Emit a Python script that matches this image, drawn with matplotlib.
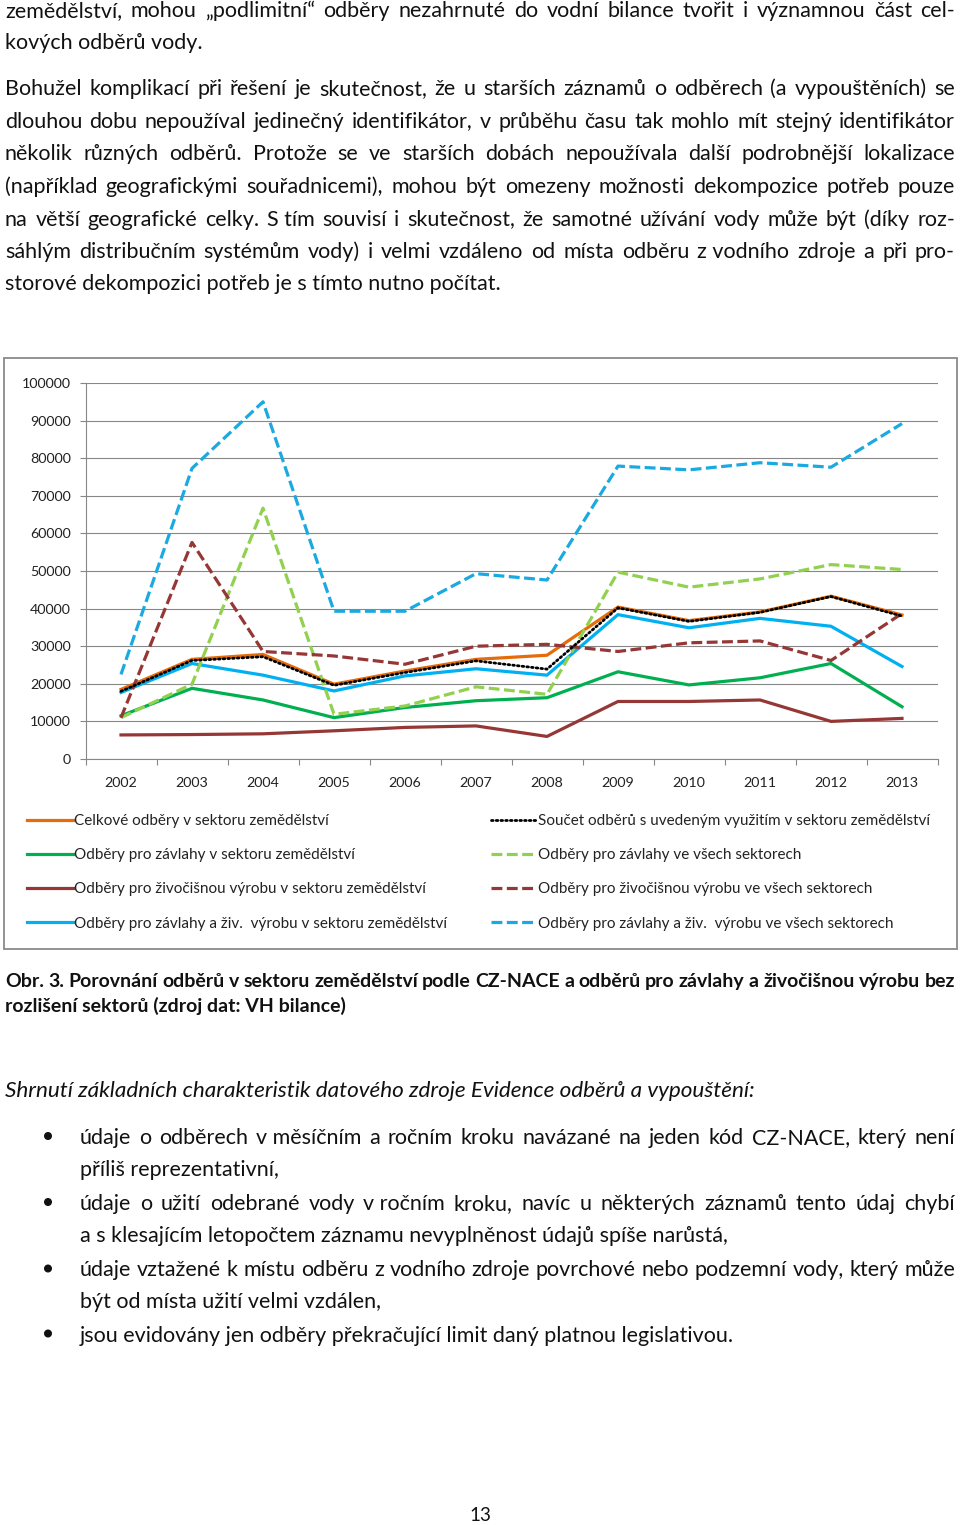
import matplotlib
matplotlib.use('Agg')
import matplotlib.pyplot as plt
from matplotlib.patches import Rectangle, Circle

# ---- chart data (m3 / year) ----
years = ['2002', '2003', '2004', '2005', '2006', '2007',
         '2008', '2009', '2010', '2011', '2012', '2013']
celkove = [18500, 26500, 27800, 19900, 23400, 26500, 27600, 40400, 36800, 39100, 43300, 38300]
soucet = [18000, 26200, 27200, 19600, 23000, 26100, 23900, 40200, 36600, 39000, 43200, 38000]
zavlahy_zem = [11500, 18800, 15700, 11000, 13700, 15500, 16300, 23200, 19700, 21600, 25400, 13900]
zavlahy_vse = [11000, 19900, 66700, 11900, 14100, 19200, 17200, 49700, 45700, 47900, 51700, 50400]
ziv_zem = [6400, 6500, 6700, 7500, 8400, 8800, 6000, 15300, 15300, 15700, 10000, 10800]
ziv_vse = [11000, 57600, 28600, 27400, 25200, 30000, 30500, 28600, 30900, 31400, 26200, 38700]
zav_ziv_zem = [17700, 25400, 22300, 18100, 22100, 24000, 22300, 38400, 34900, 37400, 35300, 24600]
zav_ziv_vse = [22500, 77300, 95000, 39300, 39300, 49300, 47600, 77900, 76900, 78800, 77600, 89200]
yticks = list(range(0, 100001, 10000))

# ---- page text ----
para1 = [("zemědělství, mohou „podlimitní“ odběry nezahrnuté do vodní bilance tvořit i významnou část cel-", True),
         ("kových odběrů vody.", False)]
para2 = [("Bohužel komplikací při řešení je skutečnost, že u starších záznamů o odběrech (a vypouštěních) se", True),
         ("dlouhou dobu nepoužíval jedinečný identifikátor, v průběhu času tak mohlo mít stejný identifikátor", True),
         ("několik různých odběrů. Protože se ve starších dobách nepoužívala další podrobnější lokalizace", True),
         ("(například geografickými souřadnicemi), mohou být omezeny možnosti dekompozice potřeb pouze", True),
         ("na větší geografické celky. S\u00a0tím souvisí i skutečnost, že samotné užívání vody může být (díky roz-", True),
         ("sáhlým distribučním systémům vody) i velmi vzdáleno od místa odběru z\u00a0vodního zdroje a při pro-", True),
         ("storové dekompozici potřeb je s tímto nutno počítat.", False)]
caption = [("Obr. 3. Porovnání odběrů v sektoru zemědělství podle CZ-NACE a odběrů pro závlahy a živočišnou výrobu bez", True),
           ("rozlišení sektorů (zdroj dat: VH bilance)", False)]
heading = "Shrnutí základních charakteristik datového zdroje Evidence odběrů a vypouštění:"
bullets = [[("údaje o odběrech v\u00a0měsíčním a ročním kroku navázané na jeden kód CZ-NACE, který není", True),
            ("příliš reprezentativní,", False)],
           [("údaje o užití odebrané vody v\u00a0ročním kroku, navíc u některých záznamů tento údaj chybí", True),
            ("a s klesajícím letopočtem záznamu nevyplněnost údajů spíše narůstá,", False)],
           [("údaje vztažené k místu odběru z vodního zdroje povrchové nebo podzemní vody, který může", True),
            ("být od místa užití velmi vzdálen,", False)],
           [("jsou evidovány jen odběry překračující limit daný platnou legislativou.", False)]]

BODY = ['Lato', 'DejaVu Sans']

fig = plt.figure(figsize=(9.6, 15.25), dpi=100)
page = fig.add_axes([0, 0, 1, 1])
page.set_xlim(0, 960)
page.set_ylim(1525, 0)
page.axis('off')
renderer = fig.canvas.get_renderer()


def put_line(text, x0, x1, y, justify, **kw):
    if not justify:
        page.text(x0, y, text, va='baseline', ha='left', **kw)
        return
    words = text.split(' ')
    objs = [page.text(0, y, w, va='baseline', ha='left', **kw) for w in words]
    widths = [o.get_window_extent(renderer).width for o in objs]
    gap = (x1 - x0 - sum(widths)) / (len(words) - 1)
    x = x0
    for o, w in zip(objs, widths):
        o.set_x(x)
        x += w + gap


body_kw = dict(family=BODY, fontsize=15.45, color='#111111')
base1 = [17, 49]
for (t, j), y in zip(para1, base1):
    put_line(t, 5, 955, y, j, **body_kw)
base2 = [95, 127.5, 160, 193, 225.5, 258, 290.5]
for (t, j), y in zip(para2, base2):
    put_line(t, 5, 955, y, j, **body_kw)

cap_kw = dict(family=BODY, fontsize=14.0, color='#111111', fontweight='bold')
for (t, j), y in zip(caption, [987, 1012]):
    put_line(t, 5, 955, y, j, **cap_kw)

page.text(5, 1097, heading, va='baseline', ha='left', style='italic',
          family=BODY, fontsize=16.2, color='#111111')

bullet_base = [[1144, 1176.5], [1210, 1242], [1276.5, 1308.5], [1341.5]]
for items, ys in zip(bullets, bullet_base):
    page.add_patch(Circle((48, ys[0] - 8), 3.3, color='#111111'))
    for (t, j), y in zip(items, ys):
        put_line(t, 80, 955, y, j, **body_kw)

page.text(480, 1521, "13", va='baseline', ha='center', family=BODY, fontsize=13.5, color='#111111')

# chart frame
page.add_patch(Rectangle((4, 358), 953, 591, facecolor='white', edgecolor='#8a8a8a', lw=1.3))

# ---- chart ----
ax = fig.add_axes([85.5 / 960, 1 - 759 / 1525, 852 / 960, 376 / 1525])
ax.set_facecolor('none')
xs = range(len(years))
lw = 2.3
dash = (0, (3.4, 1.4))
l_cel, = ax.plot(xs, celkove, color='#E46C0A', lw=lw, solid_joinstyle='miter')
l_zz, = ax.plot(xs, zavlahy_zem, color='#00B050', lw=lw)
l_vz, = ax.plot(xs, ziv_zem, color='#953735', lw=lw)
l_kz, = ax.plot(xs, zav_ziv_zem, color='#00B0F0', lw=lw)
l_zv, = ax.plot(xs, zavlahy_vse, color='#92D050', lw=lw, linestyle=dash)
l_vv, = ax.plot(xs, ziv_vse, color='#953735', lw=lw, linestyle=dash)
l_kv, = ax.plot(xs, zav_ziv_vse, color='#1AA9E1', lw=lw, linestyle=dash)
l_sou, = ax.plot(xs, soucet, color='black', lw=2.0, linestyle=(0, (0.6, 1.1)), dash_capstyle='round')

ax.set_xlim(-0.5, 11.5)
ax.set_ylim(0, 100000)
ax.set_yticks(yticks)
ax.set_yticklabels([str(v) for v in yticks], family=BODY, fontsize=10.3, color='#222222')
ax.set_xticks(list(xs))
ax.set_xticklabels(years, family=BODY, fontsize=10.3, color='#222222')
ax.set_xticks([i - 0.5 for i in range(len(years) + 1)], minor=True)
ax.tick_params(axis='x', which='major', length=0, pad=13)
ax.tick_params(axis='x', which='minor', length=4.5, color='#878787', width=0.8, direction='out')
ax.tick_params(axis='y', length=4.5, color='#878787', width=0.8, direction='out', pad=6)
ax.grid(axis='y', color='#878787', lw=0.8)
ax.set_axisbelow(True)
for s in ['top', 'right']:
    ax.spines[s].set_visible(False)
for s in ['left', 'bottom']:
    ax.spines[s].set_color('#878787')
    ax.spines[s].set_linewidth(0.8)

leg_kw = dict(frameon=False, handlelength=3.0, handletextpad=0.05, labelspacing=1.32,
              borderpad=0, borderaxespad=0, prop=dict(family=BODY, size=11),
              loc='upper left', bbox_transform=fig.transFigure)
leg1 = ax.legend([l_cel, l_zz, l_vz, l_kz],
                 ['Celkové odběry v sektoru zemědělství',
                  'Odběry pro závlahy v sektoru zemědělství',
                  'Odběry pro živočišnou výrobu v sektoru zemědělství',
                  'Odběry pro závlahy a živ.  výrobu v sektoru zemědělství'],
                 bbox_to_anchor=(27 / 960, 1 - 814 / 1525), **leg_kw)
ax.add_artist(leg1)
leg2 = ax.legend([l_sou, l_zv, l_vv, l_kv],
                 ['Součet odběrů s uvedeným využitím v sektoru zemědělství',
                  'Odběry pro závlahy ve všech sektorech',
                  'Odběry pro živočišnou výrobu ve všech sektorech',
                  'Odběry pro závlahy a živ.  výrobu ve všech sektorech'],
                 bbox_to_anchor=(491 / 960, 1 - 814 / 1525), **leg_kw)
for leg in (leg1, leg2):
    for t in leg.get_texts():
        t.set_color('#222222')

fig.savefig('out.png', dpi=100)
